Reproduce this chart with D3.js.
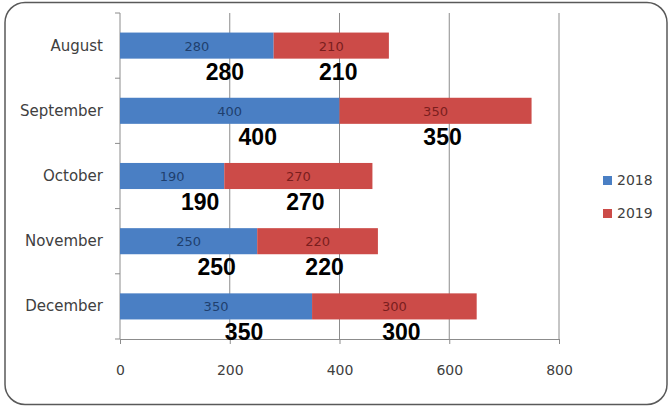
<!DOCTYPE html>
<html><head><meta charset="utf-8">
<script src="https://cdn.jsdelivr.net/npm/d3@7"></script>
<style>body{margin:0;background:#fff}svg{display:block}</style>
</head><body>
<svg id="c" width="671" height="409"></svg>
<script>
const categories = ["August","September","October","November","December"];
const series = ["2018","2019"];
const values2018 = [280,400,190,250,350];
const values2019 = [210,350,270,220,300];
const xTicks = [0,200,400,600,800];

const colors = {"2018":"#4A7FC4","2019":"#CC4B48"};
const innerColors = {"2018":"#1F3F6E","2019":"#7A1E1E"};

const svg = d3.select("#c");
svg.append("rect").attr("x",5).attr("y",2.5).attr("width",662).attr("height",402)
  .attr("rx",20).attr("fill","#fff").attr("stroke","#595959").attr("stroke-width",1.5);

const x = d3.scaleLinear().domain([0,800]).range([120,559]);
const y = d3.scaleBand().domain(categories).range([13,339]).paddingInner(0.6).paddingOuter(0.3);

// gridlines
svg.append("g").selectAll("line").data(xTicks.slice(1)).join("line")
  .attr("x1",d=>x(d)).attr("x2",d=>x(d)).attr("y1",13).attr("y2",339)
  .attr("stroke","#8c8c8c").attr("stroke-width",1);

// bottom axis
const xAxis = d3.axisBottom(x).tickValues(xTicks).tickSize(5).tickPadding(21);
const gx = svg.append("g").attr("transform","translate(0,339)").call(xAxis);
gx.select(".domain").attr("stroke","#8c8c8c");
gx.selectAll(".tick line").attr("stroke","#8c8c8c");
gx.selectAll(".tick text").attr("fill","#404040").style("font-family","DejaVu Sans").style("font-size","14px");

// left axis line and category boundary ticks
svg.append("line").attr("x1",120).attr("x2",120).attr("y1",13).attr("y2",339).attr("stroke","#8c8c8c");
svg.append("g").selectAll("line").data(d3.range(categories.length+1)).join("line")
  .attr("x1",115).attr("x2",120)
  .attr("y1",i=>13+i*y.step()).attr("y2",i=>13+i*y.step())
  .attr("stroke","#8c8c8c");

svg.append("g").selectAll("text").data(categories).join("text")
  .attr("x",103).attr("y",d=>y(d)+y.bandwidth()/2+5)
  .attr("text-anchor","end").attr("fill","#404040")
  .style("font-family","DejaVu Sans").style("font-size","15px").text(d=>d);

const rows = categories.map((c,i)=>({cat:c, "2018":values2018[i], "2019":values2019[i]}));
const stacked = d3.stack().keys(series)(rows);
const bigDx = {"2018":28,"2019":7};

stacked.forEach(layer=>{
  const key = layer.key;
  const g = svg.append("g");
  g.selectAll("rect").data(layer).join("rect")
    .attr("x",d=>x(d[0])).attr("width",d=>x(d[1])-x(d[0]))
    .attr("y",d=>y(d.data.cat)).attr("height",y.bandwidth())
    .attr("fill",colors[key]);
  g.selectAll("text.inner").data(layer).join("text").attr("class","inner")
    .attr("x",d=>(x(d[0])+x(d[1]))/2).attr("y",d=>y(d.data.cat)+y.bandwidth()/2+5)
    .attr("text-anchor","middle").attr("fill",innerColors[key])
    .style("font-family","DejaVu Sans").style("font-size","13px")
    .text(d=>d.data[key]);
  g.selectAll("text.big").data(layer).join("text").attr("class","big")
    .attr("x",d=>(x(d[0])+x(d[1]))/2+bigDx[key]).attr("y",d=>y(d.data.cat)+y.bandwidth()+21)
    .attr("text-anchor","middle").attr("fill","#000")
    .style("font-family","Liberation Sans").style("font-weight","bold").style("font-size","23px")
    .text(d=>d.data[key]);
});

// legend
const lg = svg.append("g");
series.forEach((s,i)=>{
  lg.append("rect").attr("x",603).attr("y",176+i*33).attr("width",9).attr("height",9).attr("fill",colors[s]);
  lg.append("text").attr("x",617).attr("y",185+i*33).attr("fill","#404040")
    .style("font-family","DejaVu Sans").style("font-size","14px").text(s);
});
</script>
</body></html>
